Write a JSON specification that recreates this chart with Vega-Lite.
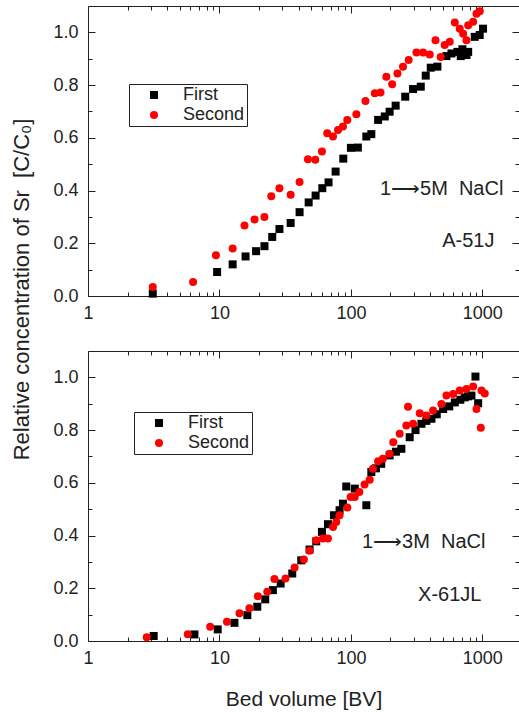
{
  "$schema": "https://vega.github.io/schema/vega-lite/v6.json",
  "background": "white",
  "padding": {"left": 9, "top": 5, "right": 0, "bottom": 0},
  "config": {
    "font": "Liberation Sans",
    "view": {"stroke": "#222222", "strokeWidth": 1},
    "axis": {"domain": false, "grid": false, "labelFont": "Liberation Sans", "labelFontSize": 18, "labelColor": "#222222", "tickColor": "#222222", "tickWidth": 1, "titleFont": "Liberation Sans", "titleFontSize": 21, "titleFontWeight": "normal", "titleColor": "#222222", "labelOverlap": false, "labelFlush": false},
    "legend": {"labelFont": "Liberation Sans", "labelFontSize": 18, "labelColor": "#222222", "strokeColor": "#222222", "fillColor": "white", "padding": 2, "rowPadding": 2, "symbolSize": 64, "symbolStrokeWidth": 0, "symbolOffset": 14, "labelOffset": 20}
  },
  "datasets": {
    "a51j": [
      {"run": "First", "bv": 3.11, "c": 0.009},
      {"run": "First", "bv": 9.6, "c": 0.091},
      {"run": "First", "bv": 12.6, "c": 0.12},
      {"run": "First", "bv": 15.8, "c": 0.15},
      {"run": "First", "bv": 19.0, "c": 0.17},
      {"run": "First", "bv": 22.0, "c": 0.189},
      {"run": "First", "bv": 25.2, "c": 0.224},
      {"run": "First", "bv": 28.6, "c": 0.254},
      {"run": "First", "bv": 34.8, "c": 0.277},
      {"run": "First", "bv": 40.7, "c": 0.318},
      {"run": "First", "bv": 47.7, "c": 0.355},
      {"run": "First", "bv": 53.9, "c": 0.381},
      {"run": "First", "bv": 60.6, "c": 0.409},
      {"run": "First", "bv": 67.6, "c": 0.431},
      {"run": "First", "bv": 76.5, "c": 0.472},
      {"run": "First", "bv": 87.5, "c": 0.521},
      {"run": "First", "bv": 100, "c": 0.562},
      {"run": "First", "bv": 113, "c": 0.563},
      {"run": "First", "bv": 131, "c": 0.605},
      {"run": "First", "bv": 143, "c": 0.614},
      {"run": "First", "bv": 161, "c": 0.668},
      {"run": "First", "bv": 181, "c": 0.681},
      {"run": "First", "bv": 197, "c": 0.699},
      {"run": "First", "bv": 219, "c": 0.722},
      {"run": "First", "bv": 259, "c": 0.756},
      {"run": "First", "bv": 297, "c": 0.785},
      {"run": "First", "bv": 340, "c": 0.794},
      {"run": "First", "bv": 371, "c": 0.836},
      {"run": "First", "bv": 405, "c": 0.866},
      {"run": "First", "bv": 455, "c": 0.87},
      {"run": "First", "bv": 533, "c": 0.91},
      {"run": "First", "bv": 582, "c": 0.92},
      {"run": "First", "bv": 646, "c": 0.926},
      {"run": "First", "bv": 685, "c": 0.91},
      {"run": "First", "bv": 705, "c": 0.936},
      {"run": "First", "bv": 757, "c": 0.914},
      {"run": "First", "bv": 780, "c": 0.926},
      {"run": "First", "bv": 875, "c": 0.983},
      {"run": "First", "bv": 955, "c": 0.99},
      {"run": "First", "bv": 1012, "c": 1.014},
      {"run": "Second", "bv": 3.11, "c": 0.034},
      {"run": "Second", "bv": 6.3, "c": 0.053},
      {"run": "Second", "bv": 9.4, "c": 0.155},
      {"run": "Second", "bv": 12.6, "c": 0.18},
      {"run": "Second", "bv": 15.5, "c": 0.267},
      {"run": "Second", "bv": 18.5, "c": 0.29},
      {"run": "Second", "bv": 22.0, "c": 0.3},
      {"run": "Second", "bv": 24.8, "c": 0.378},
      {"run": "Second", "bv": 28.6, "c": 0.409},
      {"run": "Second", "bv": 34.8, "c": 0.384},
      {"run": "Second", "bv": 40.7, "c": 0.432},
      {"run": "Second", "bv": 47.1, "c": 0.519},
      {"run": "Second", "bv": 53.6, "c": 0.517},
      {"run": "Second", "bv": 60.2, "c": 0.548},
      {"run": "Second", "bv": 66.1, "c": 0.617},
      {"run": "Second", "bv": 73.1, "c": 0.605},
      {"run": "Second", "bv": 79.8, "c": 0.63},
      {"run": "Second", "bv": 87, "c": 0.643},
      {"run": "Second", "bv": 93.9, "c": 0.668},
      {"run": "Second", "bv": 110, "c": 0.689},
      {"run": "Second", "bv": 129, "c": 0.74},
      {"run": "Second", "bv": 152, "c": 0.769},
      {"run": "Second", "bv": 168, "c": 0.772},
      {"run": "Second", "bv": 186, "c": 0.832},
      {"run": "Second", "bv": 206, "c": 0.803},
      {"run": "Second", "bv": 226, "c": 0.844},
      {"run": "Second", "bv": 249, "c": 0.87},
      {"run": "Second", "bv": 275, "c": 0.895},
      {"run": "Second", "bv": 315, "c": 0.924},
      {"run": "Second", "bv": 354, "c": 0.924},
      {"run": "Second", "bv": 398, "c": 0.916},
      {"run": "Second", "bv": 440, "c": 0.97},
      {"run": "Second", "bv": 482, "c": 0.907},
      {"run": "Second", "bv": 517, "c": 0.952},
      {"run": "Second", "bv": 565, "c": 0.964},
      {"run": "Second", "bv": 617, "c": 1.037},
      {"run": "Second", "bv": 673, "c": 1.014},
      {"run": "Second", "bv": 714, "c": 0.995},
      {"run": "Second", "bv": 757, "c": 0.97},
      {"run": "Second", "bv": 780, "c": 1.027},
      {"run": "Second", "bv": 851, "c": 1.04},
      {"run": "Second", "bv": 902, "c": 1.071},
      {"run": "Second", "bv": 955, "c": 1.08}
    ],
    "x61jl": [
      {"run": "First", "bv": 3.16, "c": 0.019},
      {"run": "First", "bv": 6.45, "c": 0.025},
      {"run": "First", "bv": 9.7, "c": 0.044},
      {"run": "First", "bv": 13.0, "c": 0.069},
      {"run": "First", "bv": 16.3, "c": 0.098},
      {"run": "First", "bv": 19.4, "c": 0.13},
      {"run": "First", "bv": 22.3, "c": 0.158},
      {"run": "First", "bv": 25.5, "c": 0.193},
      {"run": "First", "bv": 29.2, "c": 0.218},
      {"run": "First", "bv": 35.8, "c": 0.256},
      {"run": "First", "bv": 41.9, "c": 0.306},
      {"run": "First", "bv": 48.5, "c": 0.347},
      {"run": "First", "bv": 54.5, "c": 0.378},
      {"run": "First", "bv": 60.2, "c": 0.414},
      {"run": "First", "bv": 66.9, "c": 0.443},
      {"run": "First", "bv": 74.3, "c": 0.477},
      {"run": "First", "bv": 82, "c": 0.496},
      {"run": "First", "bv": 87, "c": 0.521},
      {"run": "First", "bv": 92.2, "c": 0.586},
      {"run": "First", "bv": 107, "c": 0.578},
      {"run": "First", "bv": 131, "c": 0.515},
      {"run": "First", "bv": 143, "c": 0.641},
      {"run": "First", "bv": 155, "c": 0.655},
      {"run": "First", "bv": 170, "c": 0.672},
      {"run": "First", "bv": 197, "c": 0.704},
      {"run": "First", "bv": 220, "c": 0.718},
      {"run": "First", "bv": 242, "c": 0.729},
      {"run": "First", "bv": 280, "c": 0.773},
      {"run": "First", "bv": 310, "c": 0.8},
      {"run": "First", "bv": 344, "c": 0.824},
      {"run": "First", "bv": 375, "c": 0.835},
      {"run": "First", "bv": 410, "c": 0.843},
      {"run": "First", "bv": 450, "c": 0.86},
      {"run": "First", "bv": 503, "c": 0.88},
      {"run": "First", "bv": 560, "c": 0.89},
      {"run": "First", "bv": 617, "c": 0.905},
      {"run": "First", "bv": 680, "c": 0.915},
      {"run": "First", "bv": 735, "c": 0.924},
      {"run": "First", "bv": 780, "c": 0.928},
      {"run": "First", "bv": 826, "c": 0.931},
      {"run": "First", "bv": 886, "c": 1.003},
      {"run": "First", "bv": 929, "c": 0.902},
      {"run": "Second", "bv": 2.8, "c": 0.014},
      {"run": "Second", "bv": 5.74, "c": 0.026},
      {"run": "Second", "bv": 8.5, "c": 0.054},
      {"run": "Second", "bv": 11.4, "c": 0.073},
      {"run": "Second", "bv": 14.2, "c": 0.105},
      {"run": "Second", "bv": 16.9, "c": 0.124},
      {"run": "Second", "bv": 19.6, "c": 0.17},
      {"run": "Second", "bv": 23.1, "c": 0.187},
      {"run": "Second", "bv": 26.2, "c": 0.235},
      {"run": "Second", "bv": 31.8, "c": 0.237},
      {"run": "Second", "bv": 37.3, "c": 0.279},
      {"run": "Second", "bv": 43.9, "c": 0.309},
      {"run": "Second", "bv": 48.5, "c": 0.342},
      {"run": "Second", "bv": 54.5, "c": 0.382},
      {"run": "Second", "bv": 61.3, "c": 0.389},
      {"run": "Second", "bv": 66.9, "c": 0.389},
      {"run": "Second", "bv": 73.1, "c": 0.432},
      {"run": "Second", "bv": 77.4, "c": 0.451},
      {"run": "Second", "bv": 82, "c": 0.477},
      {"run": "Second", "bv": 93.9, "c": 0.506},
      {"run": "Second", "bv": 99.5, "c": 0.546},
      {"run": "Second", "bv": 107, "c": 0.546},
      {"run": "Second", "bv": 116, "c": 0.565},
      {"run": "Second", "bv": 127, "c": 0.594},
      {"run": "Second", "bv": 139, "c": 0.612},
      {"run": "Second", "bv": 147, "c": 0.653},
      {"run": "Second", "bv": 161, "c": 0.682},
      {"run": "Second", "bv": 175, "c": 0.691},
      {"run": "Second", "bv": 197, "c": 0.71},
      {"run": "Second", "bv": 210, "c": 0.754},
      {"run": "Second", "bv": 235, "c": 0.786},
      {"run": "Second", "bv": 264, "c": 0.817},
      {"run": "Second", "bv": 272, "c": 0.889},
      {"run": "Second", "bv": 297, "c": 0.824},
      {"run": "Second", "bv": 334, "c": 0.864},
      {"run": "Second", "bv": 375, "c": 0.855},
      {"run": "Second", "bv": 422, "c": 0.874},
      {"run": "Second", "bv": 488, "c": 0.899},
      {"run": "Second", "bv": 533, "c": 0.931},
      {"run": "Second", "bv": 600, "c": 0.937},
      {"run": "Second", "bv": 673, "c": 0.95},
      {"run": "Second", "bv": 757, "c": 0.956},
      {"run": "Second", "bv": 851, "c": 0.965},
      {"run": "Second", "bv": 902, "c": 0.88},
      {"run": "Second", "bv": 973, "c": 0.809},
      {"run": "Second", "bv": 985, "c": 0.95},
      {"run": "Second", "bv": 1043, "c": 0.939}
    ],
    "lab_a": [
      {"bv": 1445, "c": 0.405, "t": "1⟶5M\u00a0\u00a0NaCl"},
      {"bv": 1236, "c": 0.208, "t": "A-51J"}
    ],
    "lab_x": [
      {"bv": 1056, "c": 0.375, "t": "1⟶3M\u00a0\u00a0NaCl"},
      {"bv": 985, "c": 0.174, "t": "X-61JL"}
    ]
  },
  "bounds": "flush",
  "spacing": 55,
  "resolve": {"scale": {"color": "independent", "shape": "independent"}},
  "vconcat": [
    {
      "width": 431,
      "height": 290,
      "resolve": {"axis": {"x": "independent", "y": "independent"}},
      "layer": [
        {
          "data": {"name": "a51j"},
          "mark": {"type": "point", "filled": true, "opacity": 1, "size": 64, "strokeWidth": 0},
          "encoding": {
            "x": {"field": "bv", "type": "quantitative", "scale": {"type": "log", "domain": [1, 1900], "nice": false},
              "axis": {"orient": "bottom", "title": null, "format": "d", "values": [1,2,3,4,5,6,7,8,9,10,20,30,40,50,60,70,80,90,100,200,300,400,500,600,700,800,900,1000],
                "labelExpr": "indexof([1,10,100,1000], datum.value) >= 0 ? datum.label : ''",
                "tickSize": {"condition": {"test": "indexof([1,10,100,1000], datum.value) >= 0", "value": -7}, "value": -4},
                "labelPadding": 15}},
            "y": {"field": "c", "type": "quantitative", "scale": {"domain": [0, 1.1], "nice": false, "zero": false},
              "axis": {"orient": "left", "format": ".1f", "values": [0,0.1,0.2,0.3,0.4,0.5,0.6,0.7,0.8,0.9,1.0],
                "labelExpr": "round(datum.value*10) % 2 == 0 ? datum.label : ''",
                "tickSize": {"condition": {"test": "round(datum.value*10) % 2 == 0", "value": -7}, "value": -4},
                "labelPadding": 17,
                "title": "Relative concentration of Sr\u00a0\u00a0[C/C₀]", "titleFontSize": 22, "titleX": -67, "titleY": 283, "titleAngle": -90, "titleAlign": "center", "titleBaseline": "middle"}},
            "color": {"field": "run", "type": "nominal", "scale": {"domain": ["First", "Second"], "range": ["#000000", "#ff0000"]},
              "legend": {"title": null, "orient": "none", "legendX": 41, "legendY": 78}},
            "shape": {"field": "run", "type": "nominal", "scale": {"domain": ["First", "Second"], "range": ["square", "circle"]},
              "legend": {"title": null, "orient": "none", "legendX": 41, "legendY": 78}}
          }
        },
        {
          "data": {"name": "a51j"},
          "mark": {"type": "point", "opacity": 0},
          "encoding": {
            "x": {"field": "bv", "type": "quantitative",
              "axis": {"orient": "top", "title": null, "labels": false, "values": [1,2,3,4,5,6,7,8,9,10,20,30,40,50,60,70,80,90,100,200,300,400,500,600,700,800,900,1000],
                "tickSize": {"condition": {"test": "indexof([1,10,100,1000], datum.value) >= 0", "value": -7}, "value": -4}}},
            "y": {"field": "c", "type": "quantitative",
              "axis": {"orient": "right", "title": null, "labels": false, "values": [0,0.1,0.2,0.3,0.4,0.5,0.6,0.7,0.8,0.9,1.0],
                "tickSize": {"condition": {"test": "round(datum.value*10) % 2 == 0", "value": -7}, "value": -4}}}
          }
        },
        {
          "data": {"name": "lab_a"},
          "mark": {"type": "text", "align": "right", "baseline": "middle", "fontSize": 20, "font": "Liberation Sans", "color": "#222222"},
          "encoding": {
            "x": {"field": "bv", "type": "quantitative", "axis": null},
            "y": {"field": "c", "type": "quantitative", "axis": null},
            "text": {"field": "t"}
          }
        }
      ]
    },
    {
      "width": 431,
      "height": 290,
      "resolve": {"axis": {"x": "independent", "y": "independent"}},
      "layer": [
        {
          "data": {"name": "x61jl"},
          "mark": {"type": "point", "filled": true, "opacity": 1, "size": 64, "strokeWidth": 0},
          "encoding": {
            "x": {"field": "bv", "type": "quantitative", "scale": {"type": "log", "domain": [1, 1900], "nice": false},
              "axis": {"orient": "bottom", "title": "Bed volume [BV]", "titlePadding": 18, "format": "d", "values": [1,2,3,4,5,6,7,8,9,10,20,30,40,50,60,70,80,90,100,200,300,400,500,600,700,800,900,1000],
                "labelExpr": "indexof([1,10,100,1000], datum.value) >= 0 ? datum.label : ''",
                "tickSize": {"condition": {"test": "indexof([1,10,100,1000], datum.value) >= 0", "value": -7}, "value": -4},
                "labelPadding": 15}},
            "y": {"field": "c", "type": "quantitative", "scale": {"domain": [0, 1.1], "nice": false, "zero": false},
              "axis": {"orient": "left", "title": null, "format": ".1f", "values": [0,0.1,0.2,0.3,0.4,0.5,0.6,0.7,0.8,0.9,1.0],
                "labelExpr": "round(datum.value*10) % 2 == 0 ? datum.label : ''",
                "tickSize": {"condition": {"test": "round(datum.value*10) % 2 == 0", "value": -7}, "value": -4},
                "labelPadding": 17}},
            "color": {"field": "run", "type": "nominal", "scale": {"domain": ["First", "Second"], "range": ["#000000", "#ff0000"]},
              "legend": {"title": null, "orient": "none", "legendX": 46, "legendY": 61}},
            "shape": {"field": "run", "type": "nominal", "scale": {"domain": ["First", "Second"], "range": ["square", "circle"]},
              "legend": {"title": null, "orient": "none", "legendX": 46, "legendY": 61}}
          }
        },
        {
          "data": {"name": "x61jl"},
          "mark": {"type": "point", "opacity": 0},
          "encoding": {
            "x": {"field": "bv", "type": "quantitative",
              "axis": {"orient": "top", "title": null, "labels": false, "values": [1,2,3,4,5,6,7,8,9,10,20,30,40,50,60,70,80,90,100,200,300,400,500,600,700,800,900,1000],
                "tickSize": {"condition": {"test": "indexof([1,10,100,1000], datum.value) >= 0", "value": -7}, "value": -4}}},
            "y": {"field": "c", "type": "quantitative",
              "axis": {"orient": "right", "title": null, "labels": false, "values": [0,0.1,0.2,0.3,0.4,0.5,0.6,0.7,0.8,0.9,1.0],
                "tickSize": {"condition": {"test": "round(datum.value*10) % 2 == 0", "value": -7}, "value": -4}}}
          }
        },
        {
          "data": {"name": "lab_x"},
          "mark": {"type": "text", "align": "right", "baseline": "middle", "fontSize": 20, "font": "Liberation Sans", "color": "#222222"},
          "encoding": {
            "x": {"field": "bv", "type": "quantitative", "axis": null},
            "y": {"field": "c", "type": "quantitative", "axis": null},
            "text": {"field": "t"}
          }
        }
      ]
    }
  ]
}
